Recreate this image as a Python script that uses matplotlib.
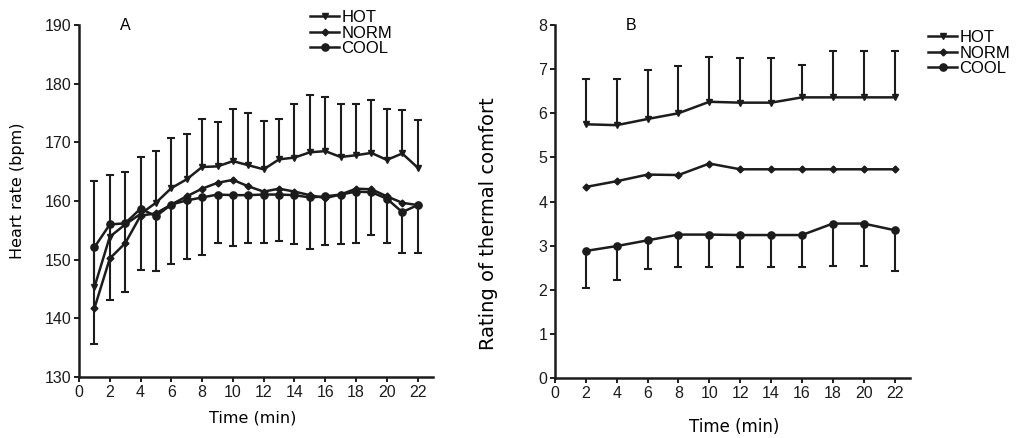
import matplotlib
matplotlib.use("Agg")
import matplotlib.pyplot as plt
import numpy as np

plt.rcParams['font.family'] = ['Liberation Sans', 'DejaVu Sans']

# ---------------- Panel A data: heart rate ----------------
time_a = list(range(1, 23))
hot_a = [145.3, 153.9, 156.0, 157.8, 159.7, 162.2, 163.7, 165.8, 165.9, 166.8, 166.1,
         165.4, 167.1, 167.4, 168.3, 168.5, 167.5, 167.8, 168.2, 167.0, 168.1, 165.7]
hot_a_sd = [18.1, 10.6, 9.0, 9.7, 8.8, 8.6, 7.8, 8.2, 7.6, 8.9, 8.9,
            8.3, 6.8, 9.2, 9.8, 9.3, 9.1, 8.8, 9.1, 8.7, 7.4, 8.1]
norm_a = [141.7, 150.2, 152.8, 157.5, 157.9, 159.4, 160.8, 162.1, 163.1, 163.6, 162.5,
          161.6, 162.1, 161.6, 161.0, 160.5, 161.1, 162.1, 162.0, 160.8, 159.7, 159.3]
cool_a = [152.1, 156.0, 156.2, 158.7, 157.4, 159.4, 160.1, 160.6, 161.1, 161.0, 161.0,
          161.1, 161.1, 161.0, 160.6, 160.8, 161.1, 161.6, 161.5, 160.4, 158.1, 159.3]
cool_a_sd = [16.4, 12.8, 11.7, 10.5, 9.3, 10.1, 10.0, 9.8, 8.3, 8.7, 8.2,
             8.3, 8.0, 8.4, 8.7, 8.3, 8.5, 8.7, 7.3, 7.6, 6.9, 8.1]

# ---------------- Panel B data: thermal comfort ----------------
time_b = list(range(2, 23, 2))
hot_b = [5.75, 5.73, 5.87, 6.00, 6.26, 6.24, 6.24, 6.36, 6.36, 6.36, 6.36]
hot_b_sd = [1.02, 1.04, 1.12, 1.06, 1.01, 1.02, 1.02, 0.73, 1.04, 1.04, 1.04]
norm_b = [4.33, 4.46, 4.61, 4.60, 4.86, 4.73, 4.73, 4.73, 4.73, 4.73, 4.73]
cool_b = [2.88, 2.99, 3.12, 3.25, 3.25, 3.24, 3.24, 3.24, 3.50, 3.50, 3.35]
cool_b_sd = [0.85, 0.76, 0.66, 0.73, 0.73, 0.72, 0.72, 0.72, 0.97, 0.97, 0.92]

labels = ['HOT', 'NORM', 'COOL']
x_ticks = list(range(0, 23, 2))

INK = '#1c1c1c'
LW = 1.8
ELW = 1.5
FS = 11.5

W, H = 1019, 438
fig = plt.figure(figsize=(W / 100, H / 100), dpi=100)

axA = fig.add_axes([79 / W, 1 - 377 / H, 354 / W, 352 / H])
axB = fig.add_axes([555 / W, 1 - 378 / H, 355 / W, 353 / H])

styles = {
    'HOT': dict(marker='v', markersize=4.5),
    'NORM': dict(marker='D', markersize=3.5),
    'COOL': dict(marker='o', markersize=5.2),
}


def err_up(ax, x, y, sd):
    x = np.asarray(x); y = np.asarray(y); sd = np.asarray(sd)
    ax.vlines(x, y, y + sd, colors=INK, linewidth=ELW, zorder=2)
    ax.plot(x, y + sd, linestyle='none', marker='_', markersize=6,
            markeredgewidth=ELW, color=INK, zorder=2)


def err_down(ax, x, y, sd):
    x = np.asarray(x); y = np.asarray(y); sd = np.asarray(sd)
    ax.vlines(x, y - sd, y, colors=INK, linewidth=ELW, zorder=2)
    ax.plot(x, y - sd, linestyle='none', marker='_', markersize=6,
            markeredgewidth=ELW, color=INK, zorder=2)


def draw(ax, x, hot, hot_sd, norm, cool, cool_sd):
    err_up(ax, x, hot, hot_sd)
    err_down(ax, x, cool, cool_sd)
    handles = []
    for lab, ys in zip(labels, [hot, norm, cool]):
        h, = ax.plot(x, ys, color=INK, linewidth=LW, label=lab, zorder=3,
                     markerfacecolor=INK, markeredgecolor=INK, **styles[lab])
        handles.append(h)
    return handles


def style_axes(ax):
    for s in ['top', 'right']:
        ax.spines[s].set_visible(False)
    for s in ['left', 'bottom']:
        ax.spines[s].set_linewidth(1.8)
        ax.spines[s].set_color(INK)
    ax.tick_params(direction='out', length=3.5, width=1.4, colors=INK,
                   labelsize=FS, pad=2)
    ax.set_xlim(0, 23)
    ax.set_xticks(x_ticks)


hA = draw(axA, time_a, hot_a, hot_a_sd, norm_a, cool_a, cool_a_sd)
style_axes(axA)
axA.set_ylim(130, 190)
axA.set_yticks(range(130, 191, 10))
axA.set_xlabel('Time (min)', fontsize=11.5, family=['DejaVu Sans'])
axA.set_ylabel('Heart rate (bpm)', fontsize=11.5, family=['DejaVu Sans'])
axA.xaxis.set_label_coords(0.49, -0.094)
axA.yaxis.set_label_coords(-0.153, 0.53)
axA.text(3.0, 190, 'A', ha='center', va='center', fontsize=FS)

hB = draw(axB, time_b, hot_b, hot_b_sd, norm_b, cool_b, cool_b_sd)
style_axes(axB)
axB.set_ylim(0, 8)
axB.set_yticks(range(0, 9))
axB.set_xlabel('Time (min)', fontsize=12, family=['DejaVu Sans'])
axB.set_ylabel('Rating of thermal comfort', fontsize=14, family=['DejaVu Sans'])
axB.xaxis.set_label_coords(0.505, -0.113)
axB.yaxis.set_label_coords(-0.16, 0.438)
axB.text(4.9, 8, 'B', ha='center', va='center', fontsize=FS)

legkw = dict(frameon=False, fontsize=12, handlelength=1.75, handletextpad=0.12,
             labelspacing=0.03, borderpad=0, borderaxespad=0, loc='upper left')
fig.legend(hA, labels, bbox_to_anchor=(310 / W, 1 - 10 / H), **legkw)
fig.legend(hB, labels, bbox_to_anchor=(928 / W, 1 - 30 / H), **legkw)

fig.savefig('out.png', dpi=100)
